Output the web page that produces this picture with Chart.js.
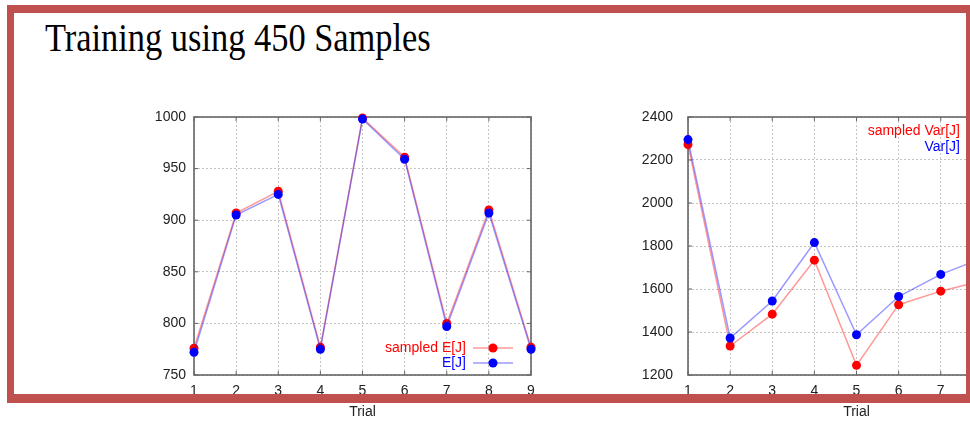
<!DOCTYPE html>
<html>
<head>
<meta charset="utf-8">
<script src="https://cdn.jsdelivr.net/npm/chart.js@4.4.1/dist/chart.umd.min.js"></script>
<style>
  html, body { margin: 0; padding: 0; background: #fff; overflow: hidden; width: 970px; height: 429px; }
  #frame { position: absolute; left: 7px; top: 5px; width: 966px; height: 398px; box-sizing: border-box;
           border: 7px solid #c0504d; border-top-width: 8px; border-bottom-width: 9px; z-index: 5; pointer-events: none; }
  #title { position: absolute; left: 45px; top: 18px; font-family: "Liberation Serif", "Times New Roman", serif;
           font-size: 40px; line-height: 40px; color: #000; white-space: nowrap;
           transform: scaleX(0.86); transform-origin: left top; }
  canvas { position: absolute; }
  #meanChart { left: 140px; top: 105px; }
  #varChart { left: 620px; top: 105px; }
</style>
</head>
<body>
<div id="title">Training using 450 Samples</div>
<canvas id="meanChart" width="400" height="320"></canvas>
<canvas id="varChart" width="420" height="320"></canvas>
<div id="frame"></div>
<script>
// datos
const trials = ["1", "2", "3", "4", "5", "6", "7", "8", "9"];
const sampledEJ = [776, 907, 928, 777, 999, 961, 800, 910, 777];
const EJ = [772, 905, 925, 775, 998, 959, 797, 907, 775];
const sampledVarJ = [2272, 1335, 1483, 1734, 1245, 1527, 1590, 1640];
const VarJ = [2295, 1372, 1544, 1816, 1387, 1565, 1668, 1745];
const meanTicks = [750, 1000, 50];   // min, max, step
const varTicks = [1200, 2400, 200];
const meanLabels = ["sampled E[J]", "E[J]"];
const varLabels = ["sampled Var[J]", "Var[J]"];
const xTitle = "Trial";

const RED = "#ff0000";
const BLUE = "#0000ff";
const RED_LINE = "rgba(255,0,0,0.4)";
const BLUE_LINE = "rgba(0,0,255,0.4)";
const FONT = '"Liberation Sans", Arial, sans-serif';
const TEXT = "#222";

// marco del grafico y leyenda al estilo gnuplot
const gnuplotLook = {
    id: "gnuplotLook",
    beforeDatasetsDraw(chart) {
        const { ctx, chartArea: a } = chart;
        ctx.save();
        ctx.strokeStyle = "#666";
        ctx.lineWidth = 1.6;
        ctx.strokeRect(a.left, a.top, a.right - a.left, a.bottom - a.top);
        // marcas hacia adentro
        ctx.lineWidth = 1;
        ctx.beginPath();
        chart.scales.x.ticks.forEach((t, i) => {
            const px = chart.scales.x.getPixelForTick(i);
            ctx.moveTo(px, a.bottom); ctx.lineTo(px, a.bottom - 4);
            ctx.moveTo(px, a.top); ctx.lineTo(px, a.top + 4);
        });
        chart.scales.y.ticks.forEach((t, i) => {
            const py = chart.scales.y.getPixelForTick(i);
            ctx.moveTo(a.left, py); ctx.lineTo(a.left + 4, py);
            ctx.moveTo(a.right, py); ctx.lineTo(a.right - 4, py);
        });
        ctx.stroke();
        ctx.restore();
    },
    afterDatasetsDraw(chart, args, opts) {
        const { ctx, chartArea: a } = chart;
        ctx.save();
        ctx.font = "14px " + FONT;
        ctx.textAlign = "right";
        ctx.textBaseline = "middle";
        opts.items.forEach((it, i) => {
            const y = opts.anchor === "bottom" ? a.bottom - 27 + i * 15 : a.top + 14 + i * 16;
            ctx.fillStyle = it.color;
            ctx.fillText(it.label, a.right - 65, y);
            ctx.strokeStyle = it.line;
            ctx.lineWidth = 1.5;
            ctx.beginPath();
            ctx.moveTo(a.right - 58, y);
            ctx.lineTo(a.right - 18, y);
            ctx.stroke();
            ctx.fillStyle = it.color;
            ctx.beginPath();
            ctx.arc(a.right - 38, y, 4.5, 0, Math.PI * 2);
            ctx.fill();
        });
        ctx.restore();
    }
};

function serie(label, data, color, line, order) {
    return {
        label: label,
        data: data,
        borderColor: line,
        borderWidth: 1.5,
        backgroundColor: color,
        pointBackgroundColor: color,
        pointBorderWidth: 0,
        pointRadius: 4.5,
        tension: 0,
        clip: false,
        order: order,
    };
}

function crearGrafico(id, red, blue, labels, yTicks, yWidth, yPad, rightPad, anchor) {
    return new Chart(document.getElementById(id), {
        type: "line",
        data: {
            labels: trials,
            datasets: [
                serie(labels[0], red, RED, RED_LINE, 1),
                serie(labels[1], blue, BLUE, BLUE_LINE, 0),
            ],
        },
        options: {
            responsive: false,
            animation: false,
            events: [],
            layout: { padding: { left: 0, top: 12, right: rightPad, bottom: 0 } },
            plugins: {
                legend: { display: false },
                tooltip: { enabled: false },
                gnuplotLook: {
                    anchor: anchor,
                    items: [
                        { label: labels[0], color: RED, line: RED_LINE },
                        { label: labels[1], color: BLUE, line: BLUE_LINE },
                    ],
                },
            },
            scales: {
                x: {
                    offset: false,
                    grid: { color: "#c4c4c4", drawTicks: false, offset: false },
                    border: { display: false, dash: [2, 2] },
                    ticks: { color: TEXT, font: { family: FONT, size: 14 }, padding: 8, maxRotation: 0, autoSkip: false },
                    title: { display: true, text: xTitle, color: TEXT, font: { family: FONT, size: 14 }, padding: { top: 0, bottom: 4 } },
                    afterFit: (s) => { s.height = 50; s.paddingLeft = 0; s.paddingRight = 0; },
                },
                y: {
                    min: yTicks[0],
                    max: yTicks[1],
                    grid: { color: "#c4c4c4", drawTicks: false },
                    border: { display: false, dash: [2, 2] },
                    ticks: {
                        stepSize: yTicks[2],
                        color: TEXT,
                        font: { family: FONT, size: 14 },
                        padding: yPad,
                        callback: (v) => String(v),
                    },
                    afterFit: (s) => { s.width = yWidth; s.paddingTop = 0; s.paddingBottom = 0; },
                },
            },
        },
        plugins: [gnuplotLook],
    });
}

crearGrafico("meanChart", sampledEJ, EJ, meanLabels, meanTicks, 54, 8, 9, "bottom");
crearGrafico("varChart", sampledVarJ, VarJ, varLabels, varTicks, 68, 15, 15, "top");
</script>
</body>
</html>
